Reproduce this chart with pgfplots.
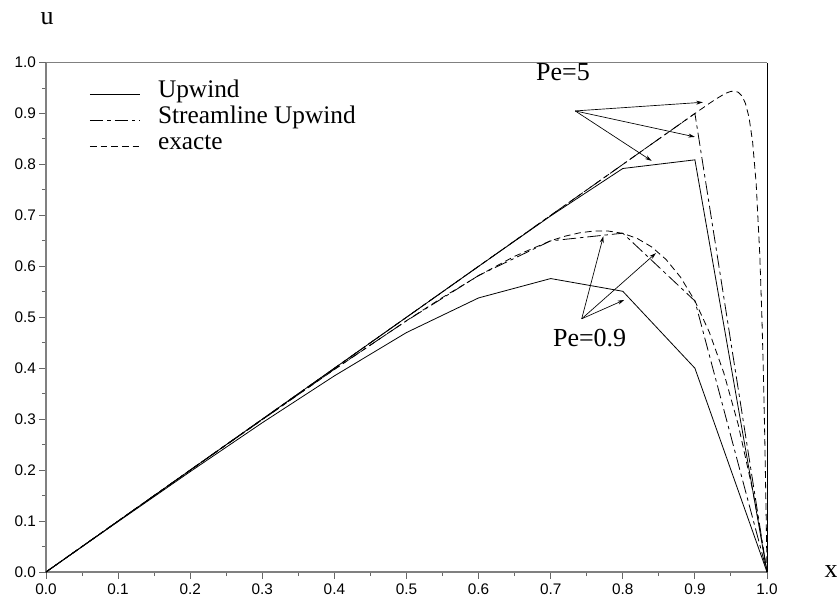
\documentclass[border=0pt]{standalone}
\usepackage{fontspec}
\setmainfont{Liberation Serif}
\newfontfamily\tickfont{Liberation Sans}
\usepackage{pgfplots}
\pgfplotsset{compat=1.18}
\usetikzlibrary{arrows.meta}
\begin{document}
\begin{tikzpicture}
\useasboundingbox (-34.5pt,-21pt) rectangle (593.25pt,429pt);
\begin{axis}[
  scale only axis, width=540.75pt, height=382.1pt,
  at={(0,0)}, anchor=south west,
  xmin=0, xmax=1, ymin=0, ymax=1,
  clip=false,
  xtick={0,0.1,0.2,0.3,0.4,0.5,0.6,0.7,0.8,0.9,1.0},
  ytick={0,0.1,0.2,0.3,0.4,0.5,0.6,0.7,0.8,0.9,1.0},
  minor tick num=1,
  xtick pos=left, ytick pos=left,
  tick align=outside, major tick length=5pt, minor tick length=3pt,
  tick style={gray!80!black, line width=0.7pt},
  axis line style={draw=none},
  tick label style={font=\tickfont\fontsize{11.5}{13}\selectfont,
    /pgf/number format/fixed, /pgf/number format/fixed zerofill,
    /pgf/number format/precision=1, /pgf/number format/assume math mode=true},
  yticklabel style={xshift=1pt},
  every axis plot/.append style={black, line width=0.6pt},
]
% axis frame
\draw[gray, line width=1.5pt] (rel axis cs:0,0) -- (rel axis cs:1,0);
\draw[gray, line width=1pt] (rel axis cs:0,0) -- (rel axis cs:0,1);
\draw[gray, line width=0.8pt] (rel axis cs:0,1) -- (rel axis cs:1,1);
\draw[black, line width=0.6pt] (rel axis cs:1,0) -- (rel axis cs:1,1);

% Upwind Pe=5
\addplot[solid] coordinates {(0,0)(0.1,0.1)(0.2,0.2)(0.3,0.3)(0.4,0.4)(0.5,0.5)(0.6,0.6)(0.7,0.699)(0.8,0.792)(0.9,0.809)(1.0,0)};
% Upwind Pe=0.9
\addplot[solid] coordinates {(0,0)(0.1,0.099)(0.2,0.197)(0.3,0.293)(0.4,0.385)(0.5,0.470)(0.6,0.538)(0.7,0.576)(0.8,0.551)(0.9,0.400)(1.0,0)};
% Streamline Upwind Pe=5
\addplot[dash pattern=on 10pt off 3pt on 2.5pt off 3pt] coordinates {(0,0)(0.1,0.1)(0.2,0.2)(0.3,0.3)(0.4,0.4)(0.5,0.5)(0.6,0.6)(0.7,0.7)(0.8,0.8)(0.9,0.9)(1.0,0)};
% Streamline Upwind Pe=0.9
\addplot[dash pattern=on 10pt off 3pt on 2.5pt off 3pt] coordinates {(0,0)(0.1,0.1)(0.2,0.2)(0.3,0.299)(0.4,0.398)(0.5,0.493)(0.6,0.582)(0.7,0.650)(0.8,0.665)(0.9,0.532)(1.0,0)};
% exacte Pe=5
\addplot[dash pattern=on 5pt off 3pt] coordinates {(0,0)(0.1,0.1)(0.2,0.2)(0.3,0.3)(0.4,0.4)(0.5,0.5)(0.6,0.6)(0.7,0.7)(0.8,0.8)(0.9,0.9)(0.92,0.9197)(0.93,0.9291)(0.94,0.9375)(0.945,0.9409)(0.95,0.9433)(0.955,0.9439)(0.96,0.9417)(0.965,0.9348)(0.97,0.9202)(0.975,0.8929)(0.98,0.8447)(0.985,0.7619)(0.99,0.6221)(0.993,0.4964)(0.995,0.3885)(0.997,0.2562)(0.999,0.0942)(1.0,0)};
% exacte Pe=0.9
\addplot[dash pattern=on 5pt off 3pt] coordinates {(0,0)(0.1,0.0999)(0.2,0.1997)(0.3,0.2991)(0.4,0.3975)(0.5,0.4933)(0.55,0.5389)(0.6,0.5817)(0.65,0.6198)(0.7,0.6502)(0.72,0.6592)(0.74,0.6657)(0.76,0.6693)(0.78,0.6692)(0.8,0.6647)(0.82,0.6547)(0.84,0.6381)(0.86,0.6134)(0.88,0.5788)(0.9,0.5321)(0.92,0.4707)(0.94,0.3912)(0.96,0.2897)(0.98,0.1613)(0.99,0.0852)(1.0,0)};

% legend
\draw[black, line width=0.6pt] (axis cs:0.061,0.938) -- (axis cs:0.130,0.938);
\draw[black, line width=0.6pt, dash pattern=on 10pt off 3pt on 2.5pt off 3pt] (axis cs:0.061,0.887) -- (axis cs:0.130,0.887);
\draw[black, line width=0.6pt, dash pattern=on 5pt off 3pt] (axis cs:0.061,0.836) -- (axis cs:0.130,0.836);
\node[anchor=base west, inner sep=0pt, font=\fontsize{19}{23}\selectfont] at (axis cs:0.155,0.932) {Upwind};
\node[anchor=base west, inner sep=0pt, font=\fontsize{19}{23}\selectfont] at (axis cs:0.155,0.881) {Streamline Upwind};
\node[anchor=base west, inner sep=0pt, font=\fontsize{19}{23}\selectfont] at (axis cs:0.155,0.830) {exacte};

% annotations
\node[inner sep=0pt, font=\fontsize{19.5}{23}\selectfont] at (axis cs:0.717,0.981) {Pe=5};
\draw[-{Stealth[length=5pt,width=3pt]}, line width=0.5pt] (axis cs:0.734,0.905) -- (axis cs:0.911,0.922);
\draw[-{Stealth[length=5pt,width=3pt]}, line width=0.5pt] (axis cs:0.734,0.905) -- (axis cs:0.900,0.854);
\draw[-{Stealth[length=5pt,width=3pt]}, line width=0.5pt] (axis cs:0.734,0.905) -- (axis cs:0.840,0.807);
\node[inner sep=0pt, font=\fontsize{19.5}{23}\selectfont] at (axis cs:0.754,0.459) {Pe=0.9};
\draw[-{Stealth[length=5pt,width=3pt]}, line width=0.5pt] (axis cs:0.743,0.497) -- (axis cs:0.773,0.659);
\draw[-{Stealth[length=5pt,width=3pt]}, line width=0.5pt] (axis cs:0.743,0.497) -- (axis cs:0.846,0.626);
\draw[-{Stealth[length=5pt,width=3pt]}, line width=0.5pt] (axis cs:0.743,0.497) -- (axis cs:0.802,0.534);

% axis labels
\node[inner sep=0pt, font=\fontsize{19.5}{23}\selectfont] at (axis cs:0.0014,1.087) {u};
\node[inner sep=0pt, font=\fontsize{19.5}{23}\selectfont] at (axis cs:1.089,0) {x};
\end{axis}
\end{tikzpicture}
\end{document}
